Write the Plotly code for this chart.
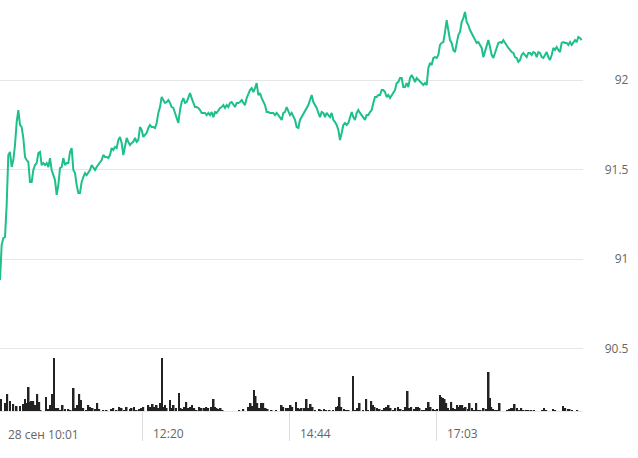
import plotly.graph_objects as go

# ---- price series (one point per sample index) ----
price = [
    90.883, 91.078, 91.117, 91.123, 91.302, 91.581, 91.598, 91.514, 91.553, 91.637,
    91.765, 91.832, 91.749, 91.737, 91.676, 91.570, 91.553, 91.542, 91.430, 91.430,
    91.497, 91.525, 91.536, 91.592, 91.598, 91.525, 91.536, 91.525, 91.536, 91.514,
    91.564, 91.497, 91.469, 91.441, 91.358, 91.413, 91.508, 91.514, 91.564, 91.525,
    91.536, 91.536, 91.598, 91.620, 91.497, 91.480, 91.413, 91.369,
    91.369, 91.430, 91.458, 91.480, 91.469, 91.486, 91.497, 91.525, 91.508, 91.497,
    91.514, 91.525, 91.542, 91.553, 91.581, 91.570, 91.570, 91.564, 91.581, 91.620,
    91.609, 91.626, 91.620, 91.665, 91.682, 91.648, 91.581, 91.637, 91.676, 91.654,
    91.637, 91.648, 91.654, 91.676, 91.654, 91.665, 91.737, 91.721, 91.682, 91.693,
    91.704, 91.732, 91.749, 91.737, 91.737, 91.732, 91.760, 91.816, 91.849, 91.905,
    91.888,
    91.872, 91.877, 91.888, 91.872, 91.849, 91.844, 91.816, 91.793, 91.760, 91.832,
    91.877, 91.899, 91.872, 91.877, 91.899, 91.927, 91.899, 91.872, 91.849, 91.849,
    91.844, 91.832, 91.816, 91.816, 91.816, 91.804, 91.816, 91.804, 91.821, 91.793,
    91.821, 91.816, 91.832, 91.844, 91.849, 91.860, 91.844, 91.860, 91.849, 91.872,
    91.877, 91.860, 91.849, 91.872, 91.872, 91.877, 91.888, 91.872, 91.860, 91.899,
    91.927,
    91.944, 91.955, 91.933, 91.955, 91.983, 91.916, 91.927, 91.899, 91.877, 91.860,
    91.821, 91.821, 91.816, 91.816, 91.816, 91.804, 91.816, 91.804, 91.793, 91.777,
    91.816, 91.821, 91.849, 91.821, 91.804, 91.816, 91.793, 91.777, 91.737, 91.732,
    91.777, 91.793, 91.804, 91.821, 91.844, 91.860, 91.888, 91.916, 91.877, 91.860,
    91.844, 91.816, 91.793, 91.821, 91.816, 91.793, 91.816, 91.804, 91.793, 91.816,
    91.777,
    91.765, 91.749, 91.721, 91.665, 91.704, 91.749, 91.760, 91.749, 91.760, 91.793,
    91.821, 91.793, 91.777, 91.816, 91.832, 91.816, 91.804, 91.788, 91.777, 91.804,
    91.804, 91.821, 91.832, 91.872, 91.905, 91.905, 91.916, 91.916, 91.944, 91.944,
    91.933, 91.905, 91.916, 91.899, 91.916, 91.933, 91.944, 91.983, 91.989, 92.011,
    92.011, 91.961, 91.961, 91.983, 91.961, 92.011, 92.028, 92.011, 91.989, 92.011,
    92.000,
    91.989, 91.983, 91.972, 91.983, 91.972, 92.067, 92.095, 92.084, 92.123, 92.128,
    92.123, 92.140, 92.196, 92.207, 92.212, 92.268, 92.335, 92.279, 92.223, 92.207,
    92.168, 92.156, 92.196, 92.251, 92.268, 92.324, 92.346, 92.380, 92.324, 92.307,
    92.279, 92.263, 92.240, 92.223, 92.207, 92.212, 92.196, 92.179, 92.128, 92.156,
    92.196, 92.223, 92.184, 92.140, 92.123, 92.151, 92.179, 92.207, 92.212, 92.207,
    92.223,
    92.207, 92.196, 92.179, 92.168, 92.156, 92.151, 92.128, 92.123, 92.101, 92.112,
    92.140, 92.151, 92.140, 92.128, 92.151, 92.151, 92.140, 92.156, 92.151, 92.128,
    92.156, 92.151, 92.128, 92.123, 92.140, 92.156, 92.128, 92.112, 92.140, 92.179,
    92.168, 92.184, 92.168, 92.156, 92.207, 92.212, 92.207, 92.207, 92.196, 92.212,
    92.196, 92.207, 92.223, 92.212, 92.240, 92.235, 92.223,
]
sample_idx = list(range(len(price)))

# ---- volume bars (sample index position, volume) ----
vol_idx = [
    0.6, 3, 4.4, 6, 8, 10, 12, 14, 15, 16, 17.2, 18, 19, 20, 21, 22.4, 23.6, 24.4, 27.6, 29,
    30.4, 31.4, 32.4, 33.6, 35, 36, 37.6, 39, 41, 42.4, 44.2, 45.2, 46.6, 47.6, 48.6, 50, 51.6,
    53, 54, 55.6, 57, 58.4, 59.6, 62, 64, 67, 68, 70, 71.6, 73, 74.4, 76, 78, 79, 80.4, 82,
    83.6, 85, 86, 89, 90, 91.6, 92.4, 94, 95, 96, 97.2, 98, 99, 100, 102, 103, 104.2, 105.6,
    107.4, 108.4, 109.6, 110.8, 111.8, 113, 114, 115.2, 116.6, 118, 119.6, 121, 122.4, 123.8,
    125, 126.6, 128.2, 129, 130, 131, 132.4, 133.6, 143.6, 146, 149, 150.4, 151.4, 152.4,
    153.4, 154.4, 155.6, 157, 158, 159.4, 160.6, 163, 165.6, 169, 170, 171.6, 173, 174.4,
    175.4, 177.6, 179, 180, 181, 182.4, 184, 185, 186.4, 187.6, 189,
    191.8, 192.8, 194.4, 195.8, 197.8, 199.8, 201.8, 202.8, 203.8, 204.8, 206.4, 207.8, 209.2,
    211.8, 213.2, 214.4, 215.8, 217.8, 219.8, 220.8, 222.8, 223.8, 224.8, 226.2, 227.8, 229.2,
    230.4, 231.8, 233.2, 234.4, 235.8, 237.2, 238.8, 240.4, 241.8, 243.2, 244.6, 245.8, 246.8,
    248.4, 249.8, 250.8, 251.8, 253.2, 254.4, 255.8, 257.2, 258.4, 259.8, 261.2, 262.4, 264,
    264.8, 265.8, 266.8, 267.8, 268.8, 269.8, 270.8, 271.8, 273.2, 274.4, 275.4, 276.4, 277.4,
    278.4, 279.4, 280.8, 281.8, 283.2, 284.4, 285.8, 286.8, 288.4, 290.2, 291.8, 293.2, 294,
    294.8, 295.8, 297.2, 298.4, 299.8, 304.4, 305.8, 306.8, 307.8, 308.8, 310.2, 311.4, 312.8,
    314.2, 315.8, 317.2, 318.8, 320.4, 325.2, 326.4, 327.8, 331.8, 333.2, 337.8, 339.2, 340.8,
    341.8, 343.2, 346.4,
]
volume = [
    12, 8, 17, 10, 7, 5, 5, 7, 12, 8, 24, 9, 10, 10, 6, 17, 9, 1, 14, 2,
    6, 17, 53, 3, 3, 1, 6, 2, 2, 1, 23, 3, 6, 17, 11, 3, 1, 6, 4, 3,
    2, 8, 2, 1, 1, 2, 3, 1, 4, 3, 1, 4, 2, 3, 4, 1, 2, 3, 4, 6,
    4, 7, 4, 6, 3, 8, 53, 4, 6, 3, 11, 3, 6, 3, 18, 3, 2, 4, 9, 3,
    4, 6, 3, 1, 4, 3, 3, 4, 3, 4, 12, 4, 3, 2, 3, 1, 1, 2, 4, 8,
    5, 21, 15, 8, 3, 8, 8, 3, 2, 1, 1, 6, 4, 3, 3, 6, 4, 9, 3, 2,
    3, 3, 12, 3, 7, 4, 1,
    2, 1, 2, 1, 1, 1, 4, 5, 14, 4, 2, 1, 1, 35, 1, 3, 8, 1, 12, 1,
    10, 6, 4, 3, 2, 1, 3, 4, 6, 3, 1, 3, 4, 2, 1, 4, 20, 3, 4, 2,
    4, 4, 3, 1, 1, 3, 9, 4, 2, 1, 2, 16, 14, 13, 12, 8, 3, 1, 9, 3,
    2, 6, 4, 6, 6, 3, 4, 2, 8, 3, 1, 8, 1, 1, 3, 2, 39, 13, 4, 2,
    1, 1, 8, 1, 2, 3, 3, 7, 3, 1, 3, 1, 1, 1, 1, 1, 1, 3, 1, 2,
    1, 5, 3, 2, 2, 1, 1,
]

# ---- axis ticks ----
x_tick_idx = [85.2, 173.4, 261.6]
x_tick_text = ["12:20", "14:44", "17:03"]
first_tick_text = "28 сен 10:01"
y_tick_vals = [90.5, 91, 91.5, 92]
y_tick_text = ["90.5", "91", "91.5", "92"]

LINE = "#1dbf8c"
FONT = dict(family="Open Sans", size=12, color="#666666")

fig = go.Figure()
fig.add_trace(go.Bar(
    x=vol_idx, y=volume, yaxis="y2", width=1.0,
    marker=dict(color="#222222", line=dict(width=0)),
    hoverinfo="skip",
))
fig.add_trace(go.Scatter(
    x=sample_idx, y=price, mode="lines",
    line=dict(color=LINE, width=2),
    hoverinfo="skip",
))

fig.update_layout(
    width=638, height=458,
    margin=dict(l=0, r=0, t=0, b=47),
    paper_bgcolor="white", plot_bgcolor="white",
    showlegend=False, hovermode=False,
    xaxis=dict(
        domain=[0, 0.9138], range=[0, 349.8],
        showgrid=False, zeroline=False,
        showline=True, linecolor="#e6e6e6", linewidth=1,
        ticks="outside", ticklen=29, tickcolor="#dddddd", tickwidth=1,
        tickvals=x_tick_idx, ticktext=x_tick_text,
        ticklabelposition="outside right",
        ticklabelshift=10, ticklabelstandoff=12,
        tickfont=FONT,
    ),
    yaxis=dict(
        range=[90.151, 92.447],
        side="left", anchor="free", position=0.985,
        tickvals=y_tick_vals, ticktext=y_tick_text,
        showgrid=True, gridcolor="#e6e6e6", gridwidth=1,
        zeroline=False, showline=False, ticks="",
        tickfont=FONT,
    ),
    yaxis2=dict(overlaying="y", range=[0, 411], visible=False),
    annotations=[dict(
        x=0, xref="paper", y=0, yref="paper",
        xanchor="left", yanchor="top",
        text=first_tick_text, showarrow=False,
        font=FONT, xshift=6, yshift=-13,
    )],
)

fig.write_html("out.html")
